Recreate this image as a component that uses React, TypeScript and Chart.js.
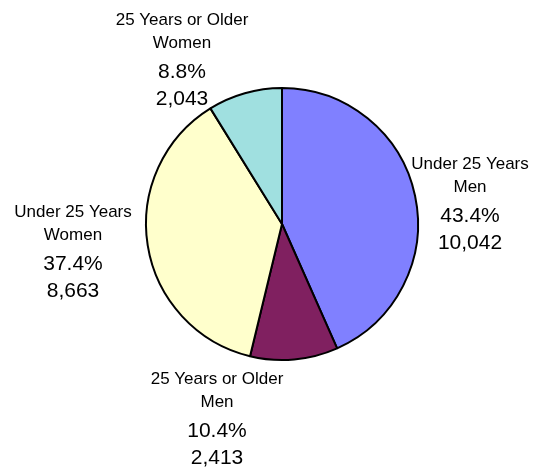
import React, { useEffect, useRef } from "react";
import { Chart, registerables } from "chart.js";

Chart.register(...registerables);

const categories = ["Under 25 Years|Men", "25 Years or Older|Men", "Under 25 Years|Women", "25 Years or Older|Women"];
const counts = [10042, 2413, 8663, 2043];
const percents = ["43.4%", "10.4%", "37.4%", "8.8%"];
const colors = ["#8080FF", "#802060", "#FFFFCC", "#A0E0E0"];
// label anchor (first line centre) relative to the pie centre
const labelOffsets = [
  [188, -60],
  [-65, 155],
  [-209, -12],
  [-100, -204],
];

const labelPlugin = {
  id: "pieLabels",
  afterDraw(chart: any) {
    const ctx = chart.ctx;
    const meta = chart.getDatasetMeta(0);
    ctx.save();
    ctx.fillStyle = "#000";
    ctx.textAlign = "center";
    ctx.textBaseline = "middle";
    meta.data.forEach((arc: any, i: number) => {
      const cx = arc.x + labelOffsets[i][0];
      const cy = arc.y + labelOffsets[i][1];
      const [l1, l2] = categories[i].split("|");
      ctx.font = "17px 'Liberation Sans', Arial, sans-serif";
      ctx.fillText(l1, cx, cy);
      ctx.fillText(l2, cx, cy + 23);
      ctx.font = "21px 'Liberation Sans', Arial, sans-serif";
      ctx.fillText(percents[i], cx, cy + 52);
      ctx.fillText(counts[i].toLocaleString("en-US"), cx, cy + 79);
    });
    ctx.restore();
  },
};

export default function App() {
  const ref = useRef<HTMLCanvasElement>(null);
  useEffect(() => {
    const chart = new Chart(ref.current!, {
      type: "pie",
      data: {
        labels: categories.map((c) => c.replace("|", " ")),
        datasets: [
          {
            data: counts,
            backgroundColor: colors,
            borderColor: "#000",
            borderWidth: 2,
            radius: 136,
          } as any,
        ],
      },
      options: {
        animation: false,
        responsive: false,
        layout: { padding: { left: 142, right: 119, top: 84, bottom: 108 } },
        plugins: { legend: { display: false }, tooltip: { enabled: false } },
      },
      plugins: [labelPlugin],
    });
    return () => chart.destroy();
  }, []);
  return (
    <div style={{ position: "fixed", left: 0, top: 0, width: 541, height: 472, background: "#fff" }}>
      <canvas ref={ref} width={541} height={472} style={{ width: 541, height: 472 }} />
    </div>
  );
}
